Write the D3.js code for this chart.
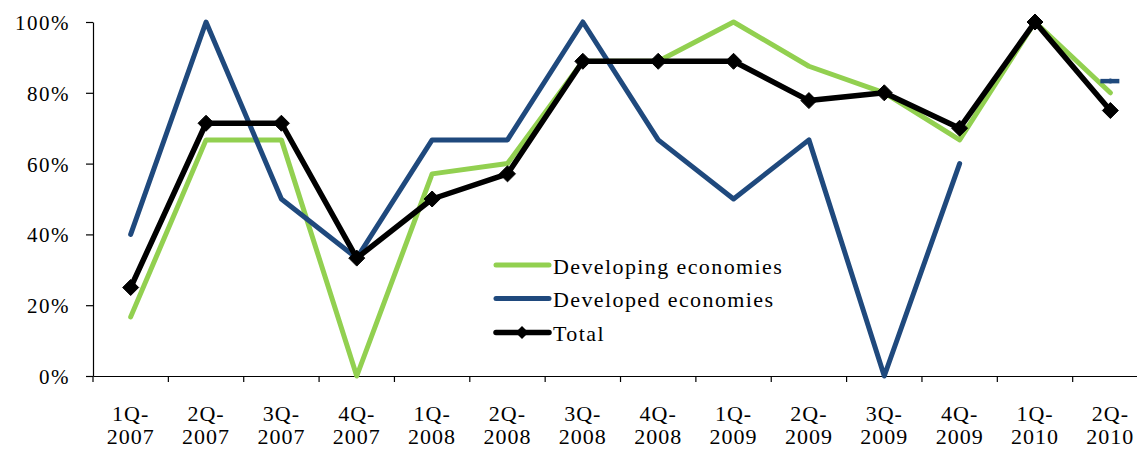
<!DOCTYPE html>
<html>
<head>
<meta charset="utf-8">
<script src="https://cdn.jsdelivr.net/npm/d3@7"></script>
<style>
html,body{margin:0;padding:0;background:#fff;}
svg{display:block;}
svg text{font-family:"Liberation Serif",serif !important;fill:#000;}
</style>
</head>
<body>
<svg id="chart" width="1137" height="450"></svg>
<script>
const quarters = ["1Q-","2Q-","3Q-","4Q-","1Q-","2Q-","3Q-","4Q-","1Q-","2Q-","3Q-","4Q-","1Q-","2Q-"];
const years    = ["2007","2007","2007","2007","2008","2008","2008","2008","2009","2009","2009","2009","2010","2010"];
const categories = quarters.map((q,i)=>q+years[i]);
const developing = [16.7, 66.7, 66.7, 0, 57.1, 60, 88.9, 88.9, 100, 87.5, 80, 66.7, 100, 80];
const developed  = [40, 100, 50, 33.3, 66.7, 66.7, 100, 66.7, 50, 66.7, 0, 60, null, 83.3];
const total      = [25, 71.4, 71.4, 33.3, 50, 57.1, 88.9, 88.9, 88.9, 77.8, 80, 70, 100, 75];
const yTicks = [0, 20, 40, 60, 80, 100];
const seriesNames = ["Developing economies", "Developed economies", "Total"];

const FONT = "Liberation Serif";
const svg = d3.select("#chart");
const x = d3.scaleBand().domain(categories).range([93, 93 + 75.36*14]).paddingInner(0).paddingOuter(0);
const y = d3.scaleLinear().domain([0, 100]).range([376, 22]);
const cx = c => x(c) + x.bandwidth()/2;

// Y axis
const yAxis = svg.append("g").attr("transform","translate(93,0)")
  .call(d3.axisLeft(y).tickValues(yTicks).tickSize(7).tickSizeOuter(0).tickFormat(d=>d+"%"));
yAxis.attr("font-family", FONT);
yAxis.select(".domain").attr("stroke","#000").attr("stroke-width",1.2);
yAxis.selectAll(".tick line").attr("stroke","#000").attr("stroke-width",1.2);
yAxis.selectAll(".tick text").attr("font-size",21).attr("x",-23).attr("dy","0.36em")
  .attr("font-family",FONT).attr("fill","#000").attr("letter-spacing", 1.5);

// X axis
const xAxis = svg.append("g").attr("transform","translate(0,376)")
  .call(d3.axisBottom(x).tickSize(0).tickSizeOuter(0).tickFormat(""));
xAxis.select(".domain").attr("stroke","#000").attr("stroke-width",1.2);
const bounds = d3.range(0, categories.length+1).map(i => 93 + i*x.bandwidth());
svg.append("g").selectAll("line").data(bounds).join("line")
  .attr("x1",d=>d).attr("x2",d=>d).attr("y1",376).attr("y2",382)
  .attr("stroke","#000").attr("stroke-width",1.2);
const lbl = svg.append("g").attr("font-family", FONT).selectAll("g").data(categories).join("g")
  .attr("transform", c => `translate(${cx(c)},0)`);
lbl.append("text").attr("y",421).attr("text-anchor","middle").attr("font-size",22)
  .attr("letter-spacing", 1).text((c,i)=>quarters[i]);
lbl.append("text").attr("y",444).attr("text-anchor","middle").attr("font-size",22)
  .attr("letter-spacing", 1).text((c,i)=>years[i]);

// Lines
const colors = ["#92D050", "#1F497D", "#000000"];
const widths = [5, 5, 5.5];
const allSeries = [developing, developed, total];
const line = d3.line().defined(d => d.v !== null).x(d => cx(d.c)).y(d => y(d.v));
allSeries.forEach((vals, si) => {
  const pts = vals.map((v,i)=>({c:categories[i], v:v}));
  svg.append("path").datum(pts).attr("d", line).attr("fill","none")
    .attr("stroke", colors[si]).attr("stroke-width", widths[si])
    .attr("stroke-linejoin","round").attr("stroke-linecap","round");
  pts.forEach((p,i) => {
    if (p.v === null) return;
    const prev = i>0 ? pts[i-1].v : null;
    const next = i<pts.length-1 ? pts[i+1].v : null;
    if (prev === null && next === null) {
      svg.append("line").attr("x1", cx(p.c)-10).attr("x2", cx(p.c)+9)
        .attr("y1", y(p.v)).attr("y2", y(p.v))
        .attr("stroke", colors[si]).attr("stroke-width", 4.5);
    }
  });
});

// Diamond markers for Total
const diamond = (r) => `M0,${-r}L${r},0L0,${r}L${-r},0Z`;
svg.append("g").selectAll("path").data(total.map((v,i)=>({c:categories[i], v})))
  .join("path").attr("d", diamond(8))
  .attr("transform", d => `translate(${cx(d.c)},${y(d.v)})`)
  .attr("fill","#000").attr("stroke","#000").attr("stroke-width",1);

// Legend
const legendRows = [265, 298.5, 332.5];
const lg = svg.append("g").attr("font-family", FONT);
seriesNames.forEach((name, i) => {
  const yy = legendRows[i];
  lg.append("line").attr("x1",496).attr("x2",549).attr("y1",yy).attr("y2",yy)
    .attr("stroke", colors[i]).attr("stroke-width", widths[i]).attr("stroke-linecap","round");
  if (i === 2) {
    lg.append("path").attr("d", diamond(6.5)).attr("transform",`translate(522,${yy})`).attr("fill","#000");
  }
  lg.append("text").attr("x",553).attr("y",yy+8.5).attr("font-size",22)
    .attr("letter-spacing", 1.4).text(name);
});
</script>
</body>
</html>
